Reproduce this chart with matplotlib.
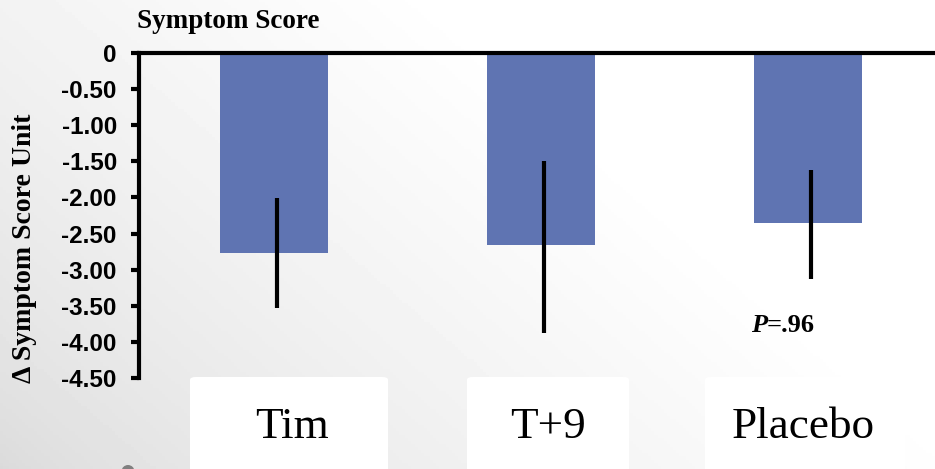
import numpy as np
import matplotlib
matplotlib.use("Agg")
import matplotlib.pyplot as plt
from matplotlib.patches import FancyBboxPatch, Ellipse

# ---- data ----
groups = ["Tim", "T+9", "Placebo"]
mean_change = [-2.77, -2.66, -2.35]
err_up = [0.765, 1.165, 0.725]
err_down = [0.755, 1.215, 0.775]
yticks = [0, -0.5, -1.0, -1.5, -2.0, -2.5, -3.0, -3.5, -4.0, -4.5]
ytick_labels = ["0", "-0.50", "-1.00", "-1.50", "-2.00", "-2.50",
                "-3.00", "-3.50", "-4.00", "-4.50"]
p_text = "=.96"

W, H = 935, 469
fig = plt.figure(figsize=(W / 100, H / 100), dpi=100)

# soft diagonal grey-to-white backdrop
bg = fig.add_axes([0, 0, 1, 1], zorder=0)
xx, yy = np.meshgrid(np.linspace(0, 1, 300), np.linspace(0, 1, 150))
t = np.clip(0.95 * xx + 0.55 * yy, 0, 1)
shade = 0.855 + 0.145 * t ** 0.7
bg.imshow(shade, cmap="gray", vmin=0, vmax=1, origin="lower",
          extent=[0, 1, 0, 1], aspect="auto")
bg.set_xlim(0, 1)
bg.set_ylim(0, 1)
bg.axis("off")

def px(x, y):
    return x / W, 1 - y / H

# white label panels under the axis
panels = [(190, 388), (467, 629), (705, 905)]
label_centers = [292, 548, 803]
for (x0, x1), xc, name in zip(panels, label_centers, groups):
    fx0, fy0 = px(x0, 480)
    fx1, fy1 = px(x1, 377)
    bg.add_patch(FancyBboxPatch((fx0, fy0), fx1 - fx0, fy1 - fy0,
                                boxstyle="round,pad=0,rounding_size=0.006",
                                transform=fig.transFigure, facecolor="white",
                                edgecolor="none", zorder=2))
    fig.text(xc / W, 1 - 427 / H, name, ha="center", va="center",
             fontsize=32.5, family="Liberation Serif", color="black", zorder=5)

bg.add_patch(Ellipse(px(128, 471.5), 13 / W, 13 / H, transform=fig.transFigure,
                     facecolor="#808080", edgecolor="none", zorder=3))

# main bar chart
left, right = 139 / W, 1.0
bottom, top = 1 - 378 / H, 1 - 53 / H
ax = fig.add_axes([left, bottom, right - left, top - bottom], zorder=2)
ax.patch.set_alpha(0)

x = np.arange(len(groups))
ax.bar(x, mean_change, width=0.405, color="#5f74b2", zorder=2)
ax.errorbar(x + 0.011, mean_change, yerr=[err_down, err_up], fmt="none",
            ecolor="black", elinewidth=3, capsize=0, zorder=3)

ax.set_xlim(-0.506, 2.475)
ax.set_ylim(-4.5, 0)
ax.set_yticks(yticks)
ax.set_yticklabels(ytick_labels, family="Liberation Sans",
                   fontweight="bold", fontsize=17.5)
ax.set_xticks([])
ax.tick_params(axis="y", direction="out", length=6, width=3, pad=10)

for side in ("right", "bottom"):
    ax.spines[side].set_visible(False)
ax.spines["left"].set_linewidth(3)
ax.spines["top"].set_linewidth(3)
ax.spines["top"].set_zorder(4)

ax.set_ylabel("\u0394 Symptom Score Unit", family="Liberation Serif",
              fontweight="bold", fontsize=20)
ax.yaxis.set_label_coords(-0.128, 0.40)

fig.text(137 / W, 1 - 21 / H, "Symptom Score", ha="left", va="center",
         family="Liberation Serif", fontweight="bold", fontsize=19.5)

# significance note
pt = ax.text(1.785, -3.86, "P", family="Liberation Serif", fontweight="bold",
             fontstyle="italic", fontsize=19, ha="left", va="baseline")
ax.annotate(p_text, xy=(1, 0), xycoords=pt, ha="left", va="bottom",
            family="Liberation Serif", fontweight="bold", fontsize=19)

fig.savefig("out.png", dpi=100)
